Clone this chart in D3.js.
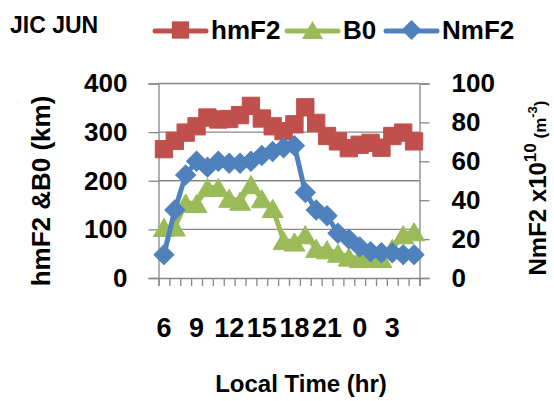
<!DOCTYPE html>
<html>
<head>
<meta charset="utf-8">
<script src="https://cdn.jsdelivr.net/npm/d3@7/dist/d3.min.js"></script>
<style>
  html, body { margin: 0; padding: 0; background: #fff; }
  svg { display: block; }
  text { font-family: "Liberation Sans", Arial, sans-serif; font-weight: bold; fill: #000; }
</style>
</head>
<body>
<svg id="chart" width="554" height="401"></svg>
<script>
/* ── JIC JUN: hmF2, B0 (left) and NmF2 (right) vs local time ── */

// categories: local hour, starting at 06
const hours = [6, 7, 8, 9, 10, 11, 12, 13, 14, 15, 16, 17, 18, 19, 20, 21, 22, 23, 0, 1, 2, 3, 4, 5];

// series (km on left axis, 1e10 m^-3 on right axis)
const hmF2 = [265, 282, 299, 312, 330, 326, 327, 335, 354, 328, 312, 302, 316, 351, 319, 292, 281, 267, 274, 278, 268, 292, 299, 281];
const B0   = [104, 105, 154, 153, 186, 186, 164, 158, 192, 163, 143, 77, 74, 89, 61, 58, 51, 43, 40, 41, 40, 61, 89, 95];
const NmF2 = [12, 35, 53, 60, 57, 60, 59, 59, 60, 63, 65, 67, 68, 44, 35, 32, 23, 20, 16, 13.5, 13, 13, 12, 12];

const leftTicks  = [0, 100, 200, 300, 400];
const rightTicks = [0, 20, 40, 60, 80, 100];

const COLORS = { hmF2: '#C0504D', B0: '#9BBB59', NmF2: '#4F81BD' };
const GRID = '#878787';

const plot = { left: 158.5, right: 419.5, top: 83.5, bottom: 278 };

const svg = d3.select('#chart');

const idx = hours.map((h, i) => i);
const x = d3.scaleBand().domain(idx).range([plot.left, plot.right]);
const xEdge = d3.scaleLinear().domain([0, hours.length]).range([plot.left, plot.right]);
const yL = d3.scaleLinear().domain([0, 400]).range([plot.bottom, plot.top]);
const yR = d3.scaleLinear().domain([0, 100]).range([plot.bottom, plot.top]);
const cx = i => x(i) + x.bandwidth() / 2;

// gridlines
svg.append('g')
    .selectAll('line')
    .data(leftTicks.filter(t => t > 0))
    .enter().append('line')
    .attr('x1', plot.left).attr('x2', plot.right)
    .attr('y1', d => yL(d)).attr('y2', d => yL(d))
    .attr('stroke', GRID).attr('stroke-width', 1.3);

// left axis
const axL = svg.append('g')
    .attr('transform', `translate(${plot.left},0)`)
    .call(d3.axisLeft(yL).tickValues(leftTicks).tickSize(10).tickPadding(21));
// right axis
const axR = svg.append('g')
    .attr('transform', `translate(${plot.right},0)`)
    .call(d3.axisRight(yR).tickValues(rightTicks).tickSize(10).tickPadding(22));
// bottom: tick marks between categories
const axB = svg.append('g')
    .attr('transform', `translate(0,${plot.bottom})`)
    .call(d3.axisBottom(xEdge).tickValues(d3.range(0, hours.length + 1)).tickSize(8).tickFormat(''));
// bottom: labels every third hour at category centres
const axLab = svg.append('g')
    .attr('transform', `translate(0,${plot.bottom})`)
    .call(d3.axisBottom(x).tickValues(idx.filter(i => i % 3 === 0))
        .tickSize(0).tickPadding(43).tickFormat(i => hours[i]));

[axL, axR, axB, axLab].forEach(a => {
    a.selectAll('path.domain').attr('stroke', GRID).attr('stroke-width', 1.3);
    a.selectAll('.tick line').attr('stroke', GRID).attr('stroke-width', 1.3);
    a.selectAll('text').attr('font-size', 26).attr('fill', '#000')
        .attr('font-family', '"Liberation Sans", Arial, sans-serif').attr('font-weight', 'bold');
});
axLab.select('path.domain').remove();
axLab.selectAll('text').attr('dy', null).attr('y', 59).attr('font-size', 27);

// series
const series = [
    { name: 'hmF2', values: hmF2, y: yL, symbol: d3.symbolSquare, size: 300, rot: 0, off: 0 },
    { name: 'B0', values: B0, y: yL, symbol: d3.symbolTriangle, size: 190, rot: 0, off: 3 },
    { name: 'NmF2', values: NmF2, y: yR, symbol: d3.symbolSquare, size: 200, rot: 45, off: 0 },
];

series.forEach(s => {
    const line = d3.line().x((d, i) => cx(i)).y(d => s.y(d));
    const g = svg.append('g');
    g.append('path')
        .datum(s.values)
        .attr('d', line)
        .attr('fill', 'none')
        .attr('stroke', COLORS[s.name])
        .attr('stroke-width', 5)
        .attr('stroke-linejoin', 'round');
    g.selectAll('path.mk')
        .data(s.values)
        .enter().append('path')
        .attr('class', 'mk')
        .attr('d', d3.symbol().type(s.symbol).size(s.size))
        .attr('transform', (d, i) => `translate(${cx(i)},${s.y(d) + s.off}) rotate(${s.rot})`)
        .attr('fill', COLORS[s.name])
        .attr('stroke', COLORS[s.name])
        .attr('stroke-width', 1);
});

// title
svg.append('text').attr('x', 10).attr('y', 33).attr('font-size', 23).text('JIC JUN');

// legend
const legendX = [155, 287, 386];
series.forEach((s, i) => {
    const lx = legendX[i];
    const g = svg.append('g').attr('transform', `translate(${lx},31)`);
    g.append('line').attr('x1', 0).attr('x2', 51)
        .attr('stroke', COLORS[s.name]).attr('stroke-width', 5).attr('stroke-linecap', 'round');
    g.append('path')
        .attr('d', d3.symbol().type(s.symbol).size(s.size))
        .attr('transform', `translate(25.5,${s.off - 1}) rotate(${s.rot})`)
        .attr('fill', COLORS[s.name]);
    g.append('text').attr('x', 56).attr('y', 8).attr('font-size', 26).text(s.name);
});

// axis titles
svg.append('text')
    .attr('transform', 'translate(50,191) rotate(-90)')
    .attr('text-anchor', 'middle')
    .attr('font-size', 26)
    .text('hmF2 &B0 (km)');

const rt = svg.append('text')
    .attr('transform', 'translate(546,188) rotate(-90)')
    .attr('text-anchor', 'middle')
    .attr('font-size', 24);
rt.append('tspan').text('NmF2 x10');
rt.append('tspan').attr('font-size', 17).attr('dy', -10).text('10');
rt.append('tspan').attr('font-size', 17).attr('dy', 10).text(' (m');
rt.append('tspan').attr('font-size', 13).attr('dy', -9).text('-3');
rt.append('tspan').attr('font-size', 17).attr('dy', 9).text(')');

svg.append('text')
    .attr('x', 301).attr('y', 392)
    .attr('text-anchor', 'middle')
    .attr('font-size', 24)
    .text('Local Time (hr)');
</script>
</body>
</html>
